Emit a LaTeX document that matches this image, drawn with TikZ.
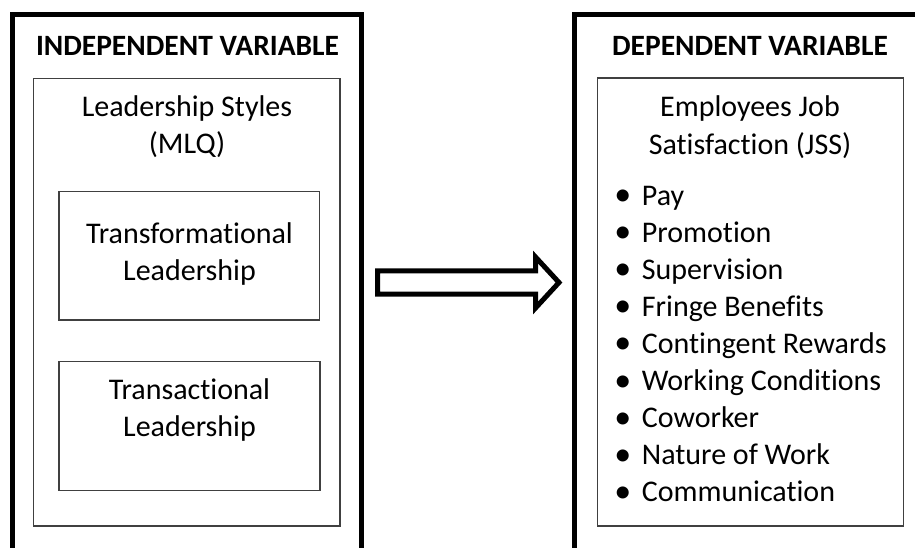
\documentclass[tikz,border=0pt]{standalone}
\usepackage{fontspec}
\setmainfont{Carlito}[Ligatures=NoCommon]
\begin{document}
\begin{tikzpicture}[x=1pt,y=-1pt,
  outerbox/.style={draw=black, line width=5pt, inner sep=0pt, outer sep=0pt},
  innerbox/.style={draw=black!75, line width=1.3pt, inner sep=0pt, outer sep=0pt},
  heading/.style={font=\fontsize{29.5}{34}\selectfont\bfseries, anchor=base, inner sep=0pt},
  body/.style={font=\fontsize{30}{37}\selectfont, anchor=base, inner sep=0pt},
  listitem/.style={font=\fontsize{30}{37}\selectfont, anchor=base west, inner sep=0pt},
  blockarrow/.style={draw=black, fill=white, line width=5pt, line join=miter}]
\useasboundingbox (0,0) rectangle (915,547);
\clip (0,0) rectangle (915,547);

% outer frames (they run off the lower and right edges)
\node[outerbox, minimum width=348.8pt, minimum height=605.7pt] (ivbox) at (186.9,317.15) {};
\node[outerbox, minimum width=426pt, minimum height=605.7pt] (dvbox) at (787,317.15) {};

% headings
\node[heading] (ivhead) at (187.5,55) {INDEPENDENT VARIABLE};
\node[heading] (dvhead) at (750,55) {DEPENDENT VARIABLE};

% independent variable: leadership styles
\node[innerbox, minimum width=306.7pt, minimum height=447.7pt] (lsbox) at (186.65,302.15) {};
\node[body] (lstitle) at (187,116.7) {Leadership Styles};
\node[body] (lsmlq) at (187,153) {(MLQ)};

\node[innerbox, minimum width=260.5pt, minimum height=128.3pt] (tfbox) at (189.25,255.85) {};
\node[body] (tfline1) at (189.5,243) {Transformational};
\node[body] (tfline2) at (189.5,280) {Leadership};

\node[innerbox, minimum width=261pt, minimum height=129pt] (tabox) at (189.5,426.2) {};
\node[body] (taline1) at (189.5,399.5) {Transactional};
\node[body] (taline2) at (189.5,436.7) {Leadership};

% dependent variable: job satisfaction facets
\node[innerbox, minimum width=306pt, minimum height=448pt] (jsbox) at (750.3,302) {};
\node[body] (jstitle1) at (750,116.7) {Employees Job};
\node[body] (jstitle2) at (750,154) {Satisfaction (JSS)};

\foreach \txt [count=\i] in {Pay, Promotion, Supervision, Fringe Benefits,
    Contingent Rewards, Working Conditions, Coworker, Nature of Work, Communication}
  \node[listitem] (item\i) at (641.7,{205+37.1*(\i-1)})
    {\llap{\raisebox{-0.5pt}{\fontsize{34}{37}\selectfont •}\hspace{10.5pt}}\txt};

% block arrow from the independent to the dependent variable
\coordinate (arrtail) at (377.5,282.5);
\coordinate (arrtip) at (559,282.5);
\draw[blockarrow] (arrtail) ++(0,-11.7) -- ++(158,0) -- ++(0,-13.8) -- (arrtip)
  -- ++(-23.5,25.5) -- ++(0,-13.8) -- ++(-158,0) -- cycle;
\end{tikzpicture}
\end{document}
